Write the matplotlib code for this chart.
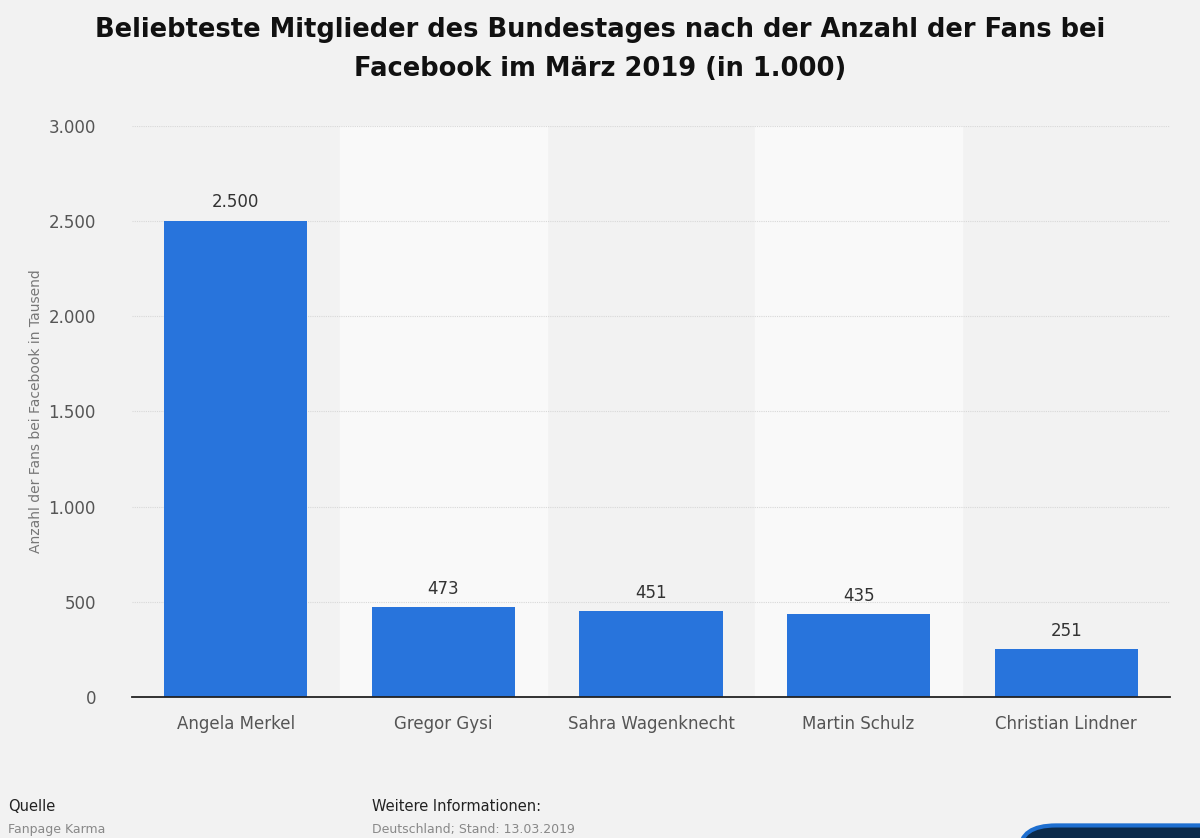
import matplotlib.pyplot as plt
from matplotlib.patches import FancyBboxPatch
import numpy as np

# Data
politicians = ["Angela Merkel", "Gregor Gysi", "Sahra Wagenknecht", "Martin Schulz", "Christian Lindner"]
fans = [2500, 473, 451, 435, 251]
y_ticks = [0, 500, 1000, 1500, 2000, 2500, 3000]
y_tick_labels = ["0", "500", "1.000", "1.500", "2.000", "2.500", "3.000"]

bg = "#f2f2f2"
bar_color = "#2874dc"

fig = plt.figure(figsize=(12, 8.38), dpi=100, facecolor=bg)
ax = fig.add_axes([0.11, 0.168, 0.865, 0.682])
ax.set_facecolor(bg)

x = np.arange(len(politicians))
# lighter background band behind every second category
for i in x:
    if i % 2 == 1:
        ax.axvspan(i - 0.5, i + 0.5, color="#f9f9f9", zorder=0)

ax.bar(x, fans, width=0.69, color=bar_color, zorder=3)
for xi, v in zip(x, fans):
    label = f"{v:,}".replace(",", ".")
    ax.text(xi, v + 50, label, ha="center", va="bottom", fontsize=12, color="#333333")

ax.set_xlim(-0.5, len(politicians) - 0.5)
ax.set_ylim(0, 3000)
ax.set_yticks(y_ticks)
ax.set_yticklabels(y_tick_labels, fontsize=12, color="#555555")
ax.set_xticks(x)
ax.set_xticklabels(politicians, fontsize=12, color="#555555")
ax.tick_params(axis="both", length=0, pad=13)
ax.tick_params(axis="y", pad=26)
ax.yaxis.grid(True, color="#d8d8d8", linestyle=(0, (1, 1)), linewidth=0.8, zorder=1)
for s in ["top", "right", "left"]:
    ax.spines[s].set_visible(False)
ax.spines["bottom"].set_color("#222222")
ax.spines["bottom"].set_linewidth(1.3)
ax.spines["bottom"].set_zorder(4)
ax.set_ylabel("Anzahl der Fans bei Facebook in Tausend", fontsize=10, color="#777777", labelpad=4)

fig.text(0.5, 0.98, "Beliebteste Mitglieder des Bundestages nach der Anzahl der Fans bei\nFacebook im März 2019 (in 1.000)",
         ha="center", va="top", fontsize=18.5, fontweight="bold", color="#111111", linespacing=1.65)

fig.text(0.007, 0.032, "Quelle", fontsize=10.5, color="#222222")
fig.text(0.007, 0.006, "Fanpage Karma", fontsize=9, color="#888888")
fig.text(0.31, 0.032, "Weitere Informationen:", fontsize=10.5, color="#222222")
fig.text(0.31, 0.006, "Deutschland; Stand: 13.03.2019", fontsize=9, color="#888888")

logo = FancyBboxPatch((0.85, -0.05), 0.2, 0.065, boxstyle="round,pad=0,rounding_size=0.03",
                      transform=fig.transFigure, facecolor="#0b2a4a", edgecolor="#1e6fd0",
                      linewidth=3, figure=fig)
fig.patches.append(logo)

fig.savefig("out.png", dpi=100, facecolor=bg)
